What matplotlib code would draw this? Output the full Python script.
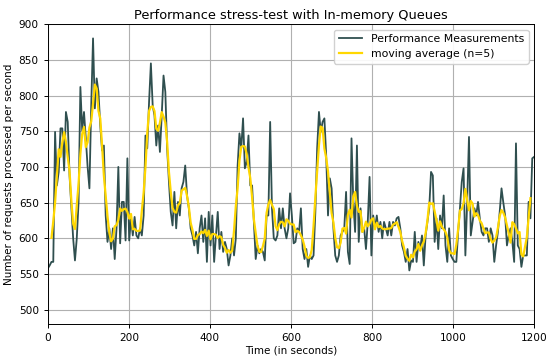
import numpy as np
import matplotlib
matplotlib.use("Agg")
import matplotlib.pyplot as plt

seg_0_140 = [558, 562, 567, 567, 749, 674, 693, 754, 754, 695, 777, 763, 688, 645, 600, 569,
             600, 651, 812, 751, 777, 740, 700, 670, 786, 880, 782, 824, 805, 758, 723, 730]
seg_140_300 = [632, 595, 614, 585, 614, 571, 614, 700, 593, 651, 651, 597, 712, 597, 628, 604,
               630, 604, 600, 614, 604, 632, 744, 726, 791, 845, 786, 772, 730, 758, 721, 772,
               828, 805, 726]
seg_300_460 = [679, 637, 618, 665, 614, 651, 632, 670, 679, 702, 660, 642, 614, 604, 590, 609,
               579, 614, 632, 595, 628, 567, 637, 590, 632, 567, 604, 637, 585, 609, 581, 595,
               585, 562, 576, 600]
seg_460_620 = [576, 600, 702, 747, 726, 768, 698, 707, 744, 674, 674, 623, 571, 590, 579, 585,
               581, 569, 632, 632, 763, 642, 600, 597, 604, 642, 614, 642, 614, 600, 614, 663,
               632, 593, 595, 614]
seg_620_780 = [609, 642, 585, 571, 585, 560, 576, 571, 576, 637, 726, 777, 749, 763, 768, 716,
               632, 684, 670, 614, 576, 567, 576, 604, 609, 614, 665, 581, 564, 740, 651, 609,
               730, 595, 642, 609]
seg_780_940 = [614, 585, 623, 686, 576, 632, 614, 632, 609, 623, 600, 623, 614, 604, 623, 604,
               623, 618, 628, 630, 614, 590, 581, 567, 585, 555, 569, 567, 609, 567, 595, 585,
               604, 562, 604, 623]
seg_940_1090 = [642, 693, 688, 595, 628, 585, 632, 614, 660, 590, 567, 614, 576, 571, 567, 567,
                609, 642, 679, 698, 576, 651, 742, 604, 623, 642, 632, 651, 628, 609, 604, 614,
                614, 595]
seg_1090_1200 = [614, 604, 567, 590, 609, 637, 670, 650, 632, 590, 604, 614, 595, 567, 733, 590,
                 585, 560, 576, 576, 576, 651, 628, 712, 714]

requests = np.array(seg_0_140 + seg_140_300 + seg_300_460 + seg_460_620 + seg_620_780
                    + seg_780_940 + seg_940_1090 + seg_1090_1200, dtype=float)
seconds = np.linspace(0, 1200, len(requests))

n = 5
moving_avg = np.convolve(requests, np.ones(n) / n, mode="valid")
half = n // 2

fig = plt.figure(figsize=(5.5, 3.6), dpi=100)
ax = fig.add_axes([0.087, 0.1, 0.884, 0.833])

ax.plot(seconds, requests, color="#2f4f4f", lw=1.3, label="Performance Measurements")
ax.plot(seconds[half:-half], moving_avg, color="#ffd700", lw=1.6, label="moving average (n=5)")

ax.set_xlim(0, 1200)
ax.set_ylim(480, 900)
ax.grid(True, color="#b0b0b0", lw=0.8)
ax.tick_params(labelsize=7.6, width=0.7, length=3)
for s in ax.spines.values():
    s.set_linewidth(0.7)

ax.set_title("Performance stress-test with In-memory Queues", fontsize=9.3, pad=4)
ax.set_xlabel("Time (in seconds)", fontsize=7.5, labelpad=2)
ax.set_ylabel("Number of requests processed per second", fontsize=7.5, labelpad=3)
ax.legend(loc="upper right", fontsize=7.8, framealpha=0.9, handlelength=2.2)

fig.savefig("out.png", dpi=100)
